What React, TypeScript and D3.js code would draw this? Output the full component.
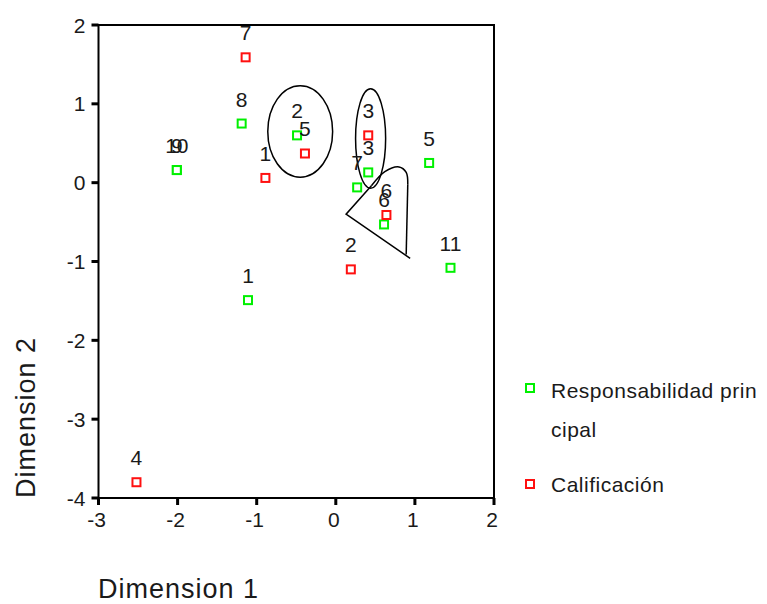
import React from "react";
import * as d3 from "d3";

// Data
const greenLabels = ["10", "9", "8", "2", "7", "3", "5", "6", "11", "1"];
const greenX = [-2.01, -2.01, -1.19, -0.49, 0.27, 0.41, 1.18, 0.61, 1.45, -1.11];
const greenY = [0.16, 0.16, 0.75, 0.6, -0.06, 0.13, 0.25, -0.53, -1.08, -1.49];

const redLabels = ["7", "1", "5", "3", "6", "2", "4"];
const redX = [-1.14, -0.89, -0.39, 0.41, 0.64, 0.19, -2.52];
const redY = [1.59, 0.06, 0.37, 0.6, -0.41, -1.1, -3.8];

const xTicks = [-3, -2, -1, 0, 1, 2];
const yTicks = [2, 1, 0, -1, -2, -3, -4];

const seriesNames = ["Responsabilidad prin", "cipal", "Calificación"];

// Hand-drawn annotation shapes (data units)
const ellipseCx = [-0.45, 0.44];
const ellipseCy = [0.65, 0.56];
const ellipseRx = [0.41, 0.19];
const ellipseRy = [0.58, 0.63];
const triStraight: [number, number][] = [
  [0.94, -0.96],
  [0.13, -0.4],
  [0.45, -0.04],
];
const triArc: [number, number][] = [
  [0.45, -0.04],
  [0.62, 0.14],
  [0.8, 0.2],
  [0.89, 0.13],
  [0.91, -0.02],
];
const triSide: [number, number][] = [
  [0.91, -0.02],
  [0.89, -0.91],
];

const W = 767;
const H = 604;
const FONT = "'Liberation Sans', Arial, sans-serif";

export default function App() {
  const x = d3.scaleLinear().domain([-3, 2]).range([98.5, 494]);
  const y = d3.scaleLinear().domain([-4, 2]).range([498, 25]);
  const lineLin = d3
    .line<[number, number]>()
    .x((d) => x(d[0]))
    .y((d) => y(d[1]));
  const lineCurve = d3
    .line<[number, number]>()
    .x((d) => x(d[0]))
    .y((d) => y(d[1]))
    .curve(d3.curveCatmullRom);

  const sq = 8;
  const marker = (cx: number, cy: number, color: string, key: string) => (
    <rect
      key={key}
      x={cx - sq / 2}
      y={cy - sq / 2}
      width={sq}
      height={sq}
      fill="white"
      stroke={color}
      strokeWidth={2}
    />
  );

  const green = "#00f000";
  const red = "#ff1010";

  return (
    <svg
      width={W}
      height={H}
      style={{ position: "absolute", left: 0, top: 0, background: "white" }}
      fontFamily={FONT}
    >
      <rect x={0} y={0} width={W} height={H} fill="white" />
      {/* frame */}
      <rect
        x={x(-3)}
        y={y(2)}
        width={x(2) - x(-3)}
        height={y(-4) - y(2)}
        fill="none"
        stroke="black"
        strokeWidth={2}
      />
      {/* y ticks */}
      {yTicks.map((t) => (
        <g key={"yt" + t}>
          <line x1={x(-3) - 7} x2={x(-3)} y1={y(t)} y2={y(t)} stroke="black" strokeWidth={3} />
          <text
            x={x(-3) - 13}
            y={y(t)}
            textAnchor="end"
            dominantBaseline="central"
            fontSize={21}
            fill="#1a1a1a"
          >
            {t}
          </text>
        </g>
      ))}
      {/* x ticks */}
      {xTicks.map((t) => (
        <g key={"xt" + t}>
          <line x1={x(t)} x2={x(t)} y1={y(-4)} y2={y(-4) + 7} stroke="black" strokeWidth={3} />
          <text x={x(t) - 2} y={y(-4) + 29} textAnchor="middle" fontSize={21} fill="#1a1a1a">
            {t}
          </text>
        </g>
      ))}
      {/* annotations */}
      {ellipseCx.map((cx, i) => (
        <ellipse
          key={"el" + i}
          cx={x(cx)}
          cy={y(ellipseCy[i])}
          rx={x(cx + ellipseRx[i]) - x(cx)}
          ry={y(ellipseCy[i] - ellipseRy[i]) - y(ellipseCy[i])}
          fill="none"
          stroke="black"
          strokeWidth={1.5}
        />
      ))}
      <path d={lineLin(triStraight) || ""} fill="none" stroke="black" strokeWidth={1.5} />
      <path d={lineCurve(triArc) || ""} fill="none" stroke="black" strokeWidth={1.5} />
      <path d={lineLin(triSide) || ""} fill="none" stroke="black" strokeWidth={1.5} />
      {/* points */}
      {greenX.map((gx, i) => marker(x(gx), y(greenY[i]), green, "g" + i))}
      {redX.map((rx, i) => marker(x(rx), y(redY[i]), red, "r" + i))}
      {/* labels */}
      {greenX.map((gx, i) => (
        <text
          key={"gl" + i}
          x={x(gx)}
          y={y(greenY[i]) - 17}
          textAnchor="middle"
          fontSize={21}
          fill="#1a1a1a"
        >
          {greenLabels[i]}
        </text>
      ))}
      {redX.map((rx, i) => (
        <text
          key={"rl" + i}
          x={x(rx)}
          y={y(redY[i]) - 17}
          textAnchor="middle"
          fontSize={21}
          fill="#1a1a1a"
        >
          {redLabels[i]}
        </text>
      ))}
      {/* axis titles */}
      <text x={98} y={598} fontSize={27} fill="#1a1a1a" letterSpacing={1}>
        Dimension 1
      </text>
      <text
        transform={`translate(35,498) rotate(-90)`}
        x={0}
        y={0}
        fontSize={27}
        fill="#1a1a1a"
        letterSpacing={1}
      >
        Dimension 2
      </text>
      {/* legend */}
      {marker(530, 388, green, "lg")}
      <text x={551} y={398} fontSize={21} fill="#1a1a1a" letterSpacing={0.5}>
        {seriesNames[0]}
      </text>
      <text x={551} y={437} fontSize={21} fill="#1a1a1a" letterSpacing={0.5}>
        {seriesNames[1]}
      </text>
      {marker(530, 484, red, "lr")}
      <text x={551} y={492} fontSize={21} fill="#1a1a1a" letterSpacing={0.5}>
        {seriesNames[2]}
      </text>
    </svg>
  );
}
